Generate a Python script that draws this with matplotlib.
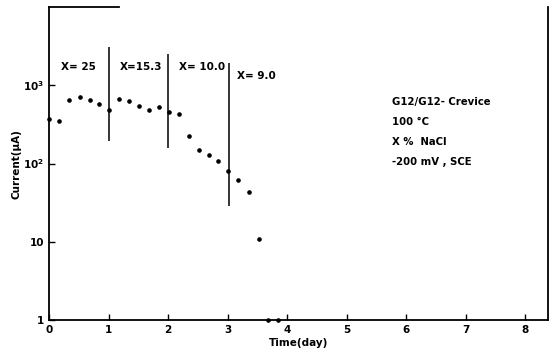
import numpy as np
import matplotlib
matplotlib.use("Agg")
import matplotlib.pyplot as plt

plt.rcParams["font.family"] = ["DejaVu Sans"]

# 측정점 (day, μA)
days = [0.0, 0.17, 0.34, 0.52, 0.68, 0.84, 1.01, 1.18, 1.34, 1.51, 1.68, 1.84,
        2.01, 2.18, 2.35, 2.52, 2.68, 2.84, 3.0, 3.18, 3.35, 3.52, 3.68, 3.85]
current = [367, 350, 650, 716, 650, 570, 480, 660, 635, 550, 490, 528,
           460, 425, 228, 150, 130, 109, 81, 62, 43, 11, 1.0, 1.0]

# NaCl 농도 변경 시점 (세로선)
change_days = [1.0, 2.0, 3.02]
change_lo = [193, 160, 28.5]
change_hi = [3090, 2500, 1950]
change_labels = ["X= 25", "X=15.3", "X= 10.0", "X= 9.0"]
label_days = [0.2, 1.19, 2.18, 3.15]
label_vals = [1700, 1700, 1700, 1300]

info = ["G12/G12- Crevice", "100 °C", "X %  NaCl", "-200 mV , SCE"]

fig = plt.figure(figsize=(5.52, 3.56), dpi=100)
ax = fig.add_axes([0.0888, 0.101, 0.904, 0.879])

ax.plot(days, current, "o", color="black", ms=2.3, clip_on=False, zorder=3)
ax.vlines(change_days, change_lo, change_hi, color="black", lw=1.1)
for d, v, s in zip(label_days, label_vals, change_labels):
    ax.text(d, v, s, fontsize=7.5, fontweight="bold", va="center", ha="left")

for i, s in enumerate(info):
    ax.text(0.687, 0.696 - i * 0.064, s, transform=ax.transAxes,
            fontsize=7.3, fontweight="bold", va="center", ha="left")

ax.set_yscale("log")
ax.set_xlim(0, 8.38)
ax.set_ylim(1, 1e4)
ax.set_xticks(range(9))
ax.set_yticks([1, 10, 100, 1000])
ax.set_yticklabels(["1", "10", "$\\mathbf{10^2}$", "$\\mathbf{10^3}$"])
ax.minorticks_off()
ax.tick_params(direction="in", length=4, width=1, labelsize=7.5)
for lab in ax.get_xticklabels() + ax.get_yticklabels():
    lab.set_fontweight("bold")

for side in ["left", "bottom", "right"]:
    ax.spines[side].set_linewidth(1.3)
ax.spines["top"].set_visible(False)
ax.plot([0, 0.14], [1, 1], transform=ax.transAxes, color="black", lw=1.3, clip_on=False)

ax.set_xlabel("Time(day)", fontsize=7.5, fontweight="bold", labelpad=2)
ax.set_ylabel("Current(μA)", fontsize=7.5, fontweight="bold", labelpad=1)

fig.savefig("out.png", dpi=100)
